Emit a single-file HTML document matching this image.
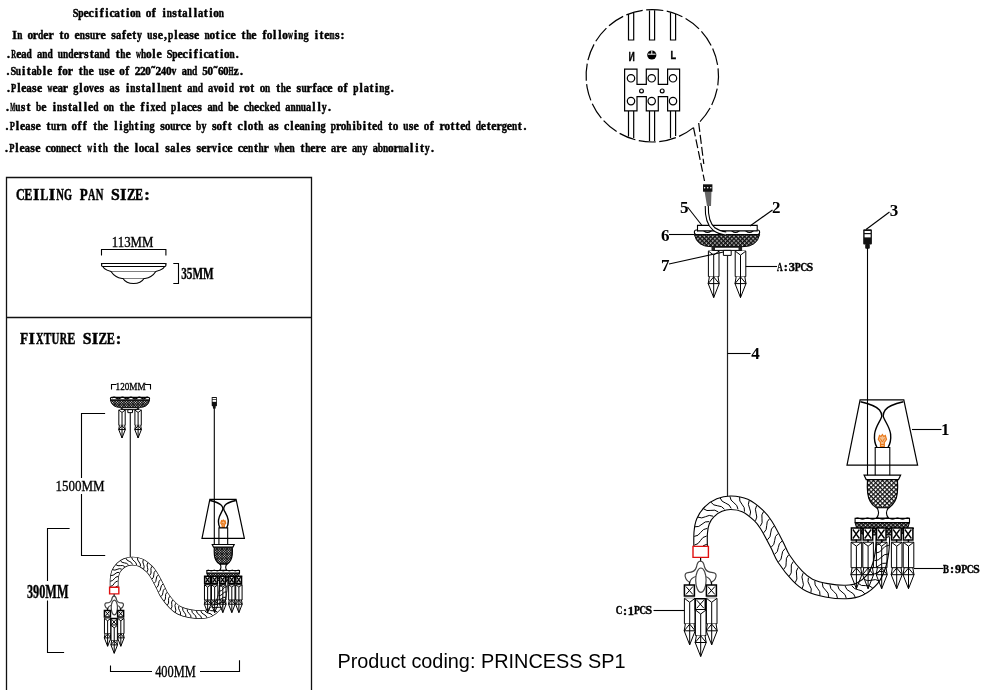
<!DOCTYPE html>
<html><head><meta charset="utf-8">
<style>
html,body{margin:0;padding:0;background:#fff;width:1000px;height:690px;overflow:hidden;}
svg{display:block;will-change:transform;}
text{font-family:"Liberation Serif",serif;fill:#000;}
.b{font-weight:bold;}
path,rect,line,circle,ellipse{vector-effect:non-scaling-stroke;}
.tube{vector-effect:none;}
.sans{font-family:"Liberation Sans",sans-serif;}
.d{stroke:#000;stroke-width:0.35;}
.bb{stroke:#000;stroke-width:0.4;}
.ser{font-family:"Liberation Serif",serif;font-weight:bold;text-anchor:middle;stroke:#000;}
.m{font-family:"Liberation Mono",monospace;font-weight:bold;stroke:#000;stroke-width:0.5;}
</style></head><body>
<svg width="1000" height="690" viewBox="0 0 1000 690">
<defs>
  <pattern id="hat2" width="3.2" height="3.2" patternUnits="userSpaceOnUse" patternTransform="rotate(45)">
    <rect width="3.2" height="3.2" fill="#fff"/>
    <rect width="3.2" height="1.2" fill="#111"/>
    <rect width="1.2" height="3.2" fill="#111"/>
  </pattern>
  <pattern id="hat" width="3" height="3" patternUnits="userSpaceOnUse" patternTransform="rotate(45)">
    <rect width="3" height="3" fill="#111"/>
    <rect x="1.6" y="1.6" width="1.4" height="1.4" fill="#fff"/>
  </pattern>
  <!-- crystal drop: origin top-left, w 10.6 -->
  <g id="cr">
    <rect x="0" y="0" width="10.6" height="25.5" fill="#fff" stroke="#000" stroke-width="1"/>
    <path d="M0,0 L5.3,4 L10.6,0 M5.3,4 V46.5 M1,25.5 L-0.2,32.5 L5.3,46.5 L10.8,32.5 L9.6,25.5 M-0.2,32.5 H10.8 M-0.2,32.5 L5.3,25.8 L10.8,32.5" fill="#fff" stroke="#000" stroke-width="1"/>
  </g>
  <g id="crn">
    <rect x="0" y="0" width="10.6" height="25.5" fill="none" stroke="#000" stroke-width="1"/>
    <path d="M0,0 L5.3,4 L10.6,0 M5.3,4 V46.5 M1,25.5 L-0.2,32.5 L5.3,46.5 L10.8,32.5 L9.6,25.5 M-0.2,32.5 H10.8 M-0.2,32.5 L5.3,25.8 L10.8,32.5" fill="none" stroke="#000" stroke-width="1"/>
  </g>
  <g id="xb2">
    <rect x="0" y="0" width="9.5" height="12" fill="#fff" stroke="#000" stroke-width="1.5"/>
    <path d="M1.5,1.5 L8,10.5 M8,1.5 L1.5,10.5" stroke="#000" stroke-width="1.3"/>
  </g>
  <g id="xb">
    <rect x="0" y="0" width="10" height="11" fill="#fff" stroke="#000" stroke-width="1.5"/>
    <path d="M1.5,1.5 L8.5,9.5 M8.5,1.5 L1.5,9.5" stroke="#000" stroke-width="1"/>
  </g>

  <!-- full fixture (big version coordinates) -->
  <g id="fix">
    <!-- plug 3 -->
    <rect x="863.2" y="229.3" width="8.7" height="15.3" rx="1" fill="#111"/>
    <rect x="864.6" y="231" width="6" height="2" fill="#fff"/>
    <rect x="864.6" y="234.2" width="6" height="3.2" fill="#fff"/>
    <rect x="865.2" y="244" width="4.6" height="4.8" rx="1" fill="#111"/>
    <line x1="867.5" y1="248" x2="867.5" y2="476" stroke="#000" stroke-width="1.1"/>

    <!-- ceiling pan -->
    <rect x="694.4" y="230" width="65.2" height="4.6" rx="2" fill="#fff" stroke="#000" stroke-width="1.1"/>
    <path d="M697,231 q3.5,-3 7,0 t7,0 t7,0 t7,0 t7,0 t7,0 t7,0 t7,0 t3.5,0" fill="none" stroke="#000" stroke-width="1.1"/>
    <path d="M694.4,234.6 L759.6,234.6 Q757,246.7 742.8,246.7 L711.4,246.7 Q697,246.7 694.4,234.6 Z" fill="url(#hat)" stroke="#000" stroke-width="1"/>
    <rect x="712.6" y="247.2" width="29" height="3.2" fill="#fff" stroke="#000" stroke-width="1"/>
    <rect x="711.5" y="246.5" width="3.5" height="4" fill="#222"/>
    <rect x="738.5" y="246.5" width="3.5" height="4" fill="#222"/>
    <use href="#cr" x="708.4" y="251.1"/>
    <use href="#cr" x="735.2" y="251.1"/>
    <rect x="723.4" y="250.4" width="7.8" height="5" fill="#fff" stroke="#000" stroke-width="1"/>
    <line x1="727.5" y1="255.4" x2="727.5" y2="497" stroke="#222" stroke-width="1.2"/>

    <!-- shade -->
    <path d="M860.1,399.8 L903.8,399.8 L917.6,465.1 L847,465.1 Z" fill="none" stroke="#000" stroke-width="1.2"/>
    <path d="M860.5,401.8 C868,403.5 876,406 879.5,410 C881.3,412.3 881.9,414.5 881.8,416 C881.5,419.5 875.5,426 874.6,434 C874,440 875.5,445 877,447.5" fill="none" stroke="#000" stroke-width="1.4"/>
    <path d="M903.4,401.8 C896,403.5 888,406 885.2,410 C883.6,412.3 883.1,414.5 883.2,416 C883.5,419.5 889.5,426 890.6,434 C891.2,440 889.5,445 888,447.5" fill="none" stroke="#000" stroke-width="1.4"/>
    <path d="M880.5,446.5 V442.5 L878.3,439.5 L879.5,435.5 L881,436.5 L882.4,434.5 L883.8,436.5 L885.3,435.5 L886.5,439.5 L884.3,442.5 V446.5 Z" fill="#f5c08f" stroke="#e8781a" stroke-width="1.2"/>
    <path d="M880.3,438.5 L882.4,442 L884.5,438.5 M880.8,444.5 H884" fill="none" stroke="#e8781a" stroke-width="1"/>
    <rect x="875.2" y="447.5" width="14.6" height="40" fill="none" stroke="#000" stroke-width="1.1"/>

    <!-- urn -->
    <path d="M867.5,479.4 C867,488 867,496 870,501 C872,505 875,507 876.5,507.8 L888.9,507.8 C890,507 893,505 895,501 C898,496 898,488 897.4,479.4 Z" style="fill:var(--urn,url(#hat2))" stroke="#000" stroke-width="1.2"/>
    <path d="M864.1,475.2 L900.6,475.2 L898.5,479.6 L866.2,479.6 Z" fill="#fff" stroke="#000" stroke-width="1.2"/>
    <path d="M877,507.8 C879,511 879,515 876.5,518.2 L888.5,518.2 C886,515 886,511 888.4,507.8 Z" fill="#fff" stroke="#000" stroke-width="1.1"/>

    <!-- bobeche -->
    <path d="M855.1,522.5 L909.5,522.5 Q907,534 898,535 L866,535 Q857,534 855.1,522.5 Z" fill="url(#hat)" stroke="#000" stroke-width="1"/>
    <rect x="855.1" y="518.4" width="54.4" height="4.2" fill="#fff" stroke="#000" stroke-width="1.1"/>
    <path d="M855,518.6 q2.5,-1.5 5,0 t5,0 t5,0 t5,0 t5,0 t5,0 t5,0 t5,0 t5,0 t5,0 t5,0" fill="none" stroke="#000" stroke-width="1"/>
    <rect x="851" y="527.9" width="63" height="1" fill="#000"/>
  </g>

  <g id="conn">
    <rect x="697.5" y="225.4" width="59.7" height="5.5" fill="#fff" stroke="#000" stroke-width="1.1"/>
    <!-- cable from connector -->
    <path d="M706.8,206 C706.5,216 708,224 714,229 C718,232 722,233 726,233.5" fill="none" stroke="#000" stroke-width="4.2" class="tube"/>
    <path d="M706.8,206 C706.5,216 708,224 714,229 C718,232 722,233 726,233.5" fill="none" stroke="#fff" stroke-width="2" class="tube"/>
    <path d="M704.5,191 L707,206 L711,206 L711.5,191 Z" fill="#666"/>
    <rect x="703" y="184.3" width="9.4" height="7.4" fill="#111"/>
    <circle cx="704.6" cy="187.8" r="0.8" fill="#fff"/><circle cx="707.7" cy="187.8" r="0.8" fill="#fff"/><circle cx="710.8" cy="187.8" r="0.8" fill="#fff"/>

  </g>

  <g id="bobcr">
    <use href="#xb2" x="851.4" y="528"/>
    <use href="#xb2" x="863.2" y="528"/>
    <use href="#xb2" x="876.5" y="528"/>
    <use href="#xb2" x="891.7" y="528"/>
    <use href="#xb2" x="903.4" y="528"/>
    <use href="#crn" x="851.1" y="542.2"/>
    <use href="#crn" x="862.8" y="542.2"/>
    <use href="#crn" x="876.4" y="542.2"/>
    <use href="#crn" x="891.4" y="542.2"/>
    <use href="#crn" x="903.2" y="542.2"/>
    <path d="M856.3,539.5 V542 M868,539.5 V542 M881.6,539.5 V542 M896.6,539.5 V542 M908.4,539.5 V542" stroke="#000" stroke-width="1.5"/>
  </g>

  <g id="arm">
    <path id="armp" d="M700.7,552.0 C700.7,548.8 700.3,538.1 700.7,533.0 C701.1,527.9 701.5,525.0 703.0,521.4 C704.5,517.8 706.8,514.3 709.6,511.6 C712.3,508.8 715.8,506.5 719.4,505.0 C723.0,503.5 726.7,502.6 731.0,502.7 C735.3,502.8 740.4,503.4 745.0,505.5 C749.6,507.6 755.2,512.3 758.8,515.6 C762.3,518.9 763.3,520.3 766.3,525.1 C769.3,529.9 773.8,538.6 776.7,544.3 C779.7,549.9 780.5,553.7 784.0,559.0 C787.5,564.3 793.1,571.5 797.4,575.9 C801.6,580.3 804.6,582.8 809.5,585.2 C814.4,587.6 820.5,589.2 826.6,590.3 C832.7,591.4 840.4,592.2 846.0,592.0 C851.6,591.8 855.6,591.2 860.0,589.0 C864.4,586.8 869.4,582.8 872.6,579.0 C875.8,575.2 877.4,570.5 879.0,566.0 C880.6,561.5 881.3,557.0 882.0,552.0 C882.7,547.0 882.8,538.7 883.0,536.0" fill="none" stroke="#000" stroke-width="14.6" class="tube"/>
    <path d="M700.7,552.0 C700.7,548.8 700.3,538.1 700.7,533.0 C701.1,527.9 701.5,525.0 703.0,521.4 C704.5,517.8 706.8,514.3 709.6,511.6 C712.3,508.8 715.8,506.5 719.4,505.0 C723.0,503.5 726.7,502.6 731.0,502.7 C735.3,502.8 740.4,503.4 745.0,505.5 C749.6,507.6 755.2,512.3 758.8,515.6 C762.3,518.9 763.3,520.3 766.3,525.1 C769.3,529.9 773.8,538.6 776.7,544.3 C779.7,549.9 780.5,553.7 784.0,559.0 C787.5,564.3 793.1,571.5 797.4,575.9 C801.6,580.3 804.6,582.8 809.5,585.2 C814.4,587.6 820.5,589.2 826.6,590.3 C832.7,591.4 840.4,592.2 846.0,592.0 C851.6,591.8 855.6,591.2 860.0,589.0 C864.4,586.8 869.4,582.8 872.6,579.0 C875.8,575.2 877.4,570.5 879.0,566.0 C880.6,561.5 881.3,557.0 882.0,552.0 C882.7,547.0 882.8,538.7 883.0,536.0" fill="none" stroke="#fff" stroke-width="12.4" class="tube"/>
    <path d="M694.5,553.6 Q698.8,552.9 700.7,549.0 Q702.5,545.0 706.8,544.3 M694.4,545.1 Q698.6,544.4 700.5,540.5 Q702.4,536.7 706.7,536.0 M694.2,536.4 Q698.5,536.1 700.7,532.4 Q703.0,528.7 707.3,528.4 M694.8,526.8 Q699.1,527.4 702.0,524.2 Q704.9,521.0 709.2,521.6 M697.8,517.1 Q701.8,518.9 705.5,516.7 Q709.2,514.4 713.1,516.2 M703.4,508.7 Q706.7,511.5 710.9,510.4 Q715.0,509.2 718.3,512.0 M710.9,502.2 Q713.4,505.8 717.7,505.8 Q722.0,505.8 724.5,509.3 M720.1,497.9 Q721.5,502.0 725.6,503.1 Q729.8,504.3 731.2,508.4 M729.9,496.3 Q730.2,500.6 733.9,502.8 Q737.6,505.0 738.0,509.3 M739.6,497.1 Q738.9,501.3 742.0,504.3 Q745.1,507.3 744.5,511.6 M749.2,500.5 Q747.4,504.4 749.5,508.1 Q751.6,511.9 749.8,515.8 M756.7,505.5 Q754.4,509.2 756.1,513.2 Q757.8,517.1 755.5,520.8 M763.7,511.4 Q760.9,514.6 762.0,518.8 Q763.1,523.0 760.2,526.3 M769.6,518.6 Q766.3,521.4 766.7,525.7 Q767.0,530.0 763.7,532.8 M774.1,526.0 Q770.6,528.6 770.7,532.9 Q770.9,537.2 767.4,539.8 M778.1,533.5 Q774.6,536.1 774.7,540.4 Q774.7,544.7 771.2,547.2 M782.1,541.0 Q778.5,543.3 778.3,547.6 Q778.2,552.0 774.6,554.3 M785.3,548.4 Q781.8,551.0 781.8,555.3 Q781.9,559.6 778.4,562.1 M788.6,554.9 Q785.5,557.9 786.2,562.2 Q786.9,566.5 783.7,569.4 M793.3,561.5 Q790.3,564.6 791.3,568.9 Q792.2,573.1 789.2,576.3 M798.1,567.6 Q795.4,570.9 796.6,575.1 Q797.9,579.2 795.2,582.6 M803.1,573.2 Q800.9,576.9 802.7,580.8 Q804.4,584.8 802.2,588.5 M808.4,577.7 Q807.0,581.8 809.6,585.3 Q812.3,588.7 810.9,592.8 M814.8,581.0 Q814.2,585.2 817.4,588.2 Q820.6,591.1 820.0,595.4 M822.3,583.1 Q822.1,587.5 825.5,590.1 Q828.9,592.7 828.7,597.0 M829.9,584.7 Q830.0,589.0 833.6,591.4 Q837.3,593.7 837.4,598.0 M837.8,585.7 Q838.2,590.0 842.0,592.0 Q845.9,594.1 846.3,598.3 M845.1,586.0 Q846.2,590.2 850.2,591.7 Q854.3,593.2 855.3,597.4 M851.8,585.7 Q854.0,589.4 858.3,589.8 Q862.6,590.1 864.8,593.8 M858.1,583.3 Q861.2,586.4 865.4,585.6 Q869.7,584.9 872.7,588.0 M864.0,579.3 Q867.6,581.7 871.6,580.2 Q875.6,578.6 879.2,581.0 M868.7,574.6 Q872.8,575.8 876.2,573.1 Q879.6,570.5 883.7,571.7 M871.9,567.7 Q876.1,568.5 879.2,565.5 Q882.2,562.4 886.5,563.2 M874.3,560.7 Q878.6,560.8 881.2,557.4 Q883.8,553.9 888.1,554.0 M875.7,553.1 Q880.0,552.9 882.3,549.2 Q884.6,545.5 888.9,545.3 M876.4,545.1 Q880.7,544.6 882.8,540.8 Q884.9,537.0 889.2,536.6" fill="none" stroke="#000" stroke-width="1"/>
  </g>

  <g id="cpart">
    <rect x="693" y="546.4" width="15.4" height="11" fill="#fff" stroke="#e01010" stroke-width="1.4"/>
    <line x1="700.6" y1="558" x2="700.6" y2="567" stroke="#000" stroke-width="1.2"/>
    <path d="M700.4,561.2 C697.5,561.2 697,564 696.5,567 C695.5,570.5 692,572.5 688,572.6 C685.5,572.7 684.8,574.5 685.2,576.5 C685.8,579.5 688,581.5 690,582 C690.5,579.5 692.5,577.5 695.8,576.5 L705.4,576.5 C708.5,577.5 710.5,579.5 711,582 C713,581.5 715.5,579.5 716,576.5 C716.4,574.5 715.5,572.7 713,572.6 C709,572.5 705.5,570.5 704.5,567 C704,564 703.5,561.2 700.4,561.2 Z" fill="#fff" stroke="#444" stroke-width="1.2"/>
    <path d="M689.5,582 V585.5 M711.5,582 V585.5" stroke="#000" stroke-width="1.3"/>
    <ellipse cx="700.9" cy="580.2" rx="5.2" ry="12.2" fill="#fff" stroke="#444" stroke-width="1.2"/>
    <use href="#xb" x="684.4" y="585"/>
    <use href="#xb" x="706.4" y="585"/>
    <use href="#cr" x="684.4" y="598.3"/>
    <use href="#cr" x="706.4" y="598.3"/>
    <use href="#xb" x="695.3" y="598.7" />
    <use href="#cr" x="695.4" y="610"/>
  </g>
</defs>

<!-- ===== instruction text ===== -->
<text class="ser" style="font-size:11.8px;stroke-width:0.45" x="85.91" y="17.3" transform="scale(0.88,1)">S</text>
<text class="ser" style="font-size:11.8px;stroke-width:0.45" x="99.77" y="17.3" transform="scale(0.81,1)">p</text>
<text class="ser" style="font-size:11.8px;stroke-width:0.45" x="86.02 91.22 96.43 101.64 106.84 112.05 122.47 127.67 153.71 164.12 174.53 179.74 190.16 195.36 205.78 210.98" y="17.3">ecifictifistllti</text>
<text class="ser" style="font-size:11.8px;stroke-width:0.45" x="130.29 205.50 222.85" y="17.3" transform="scale(0.9,1)">aaa</text>
<text class="ser" style="font-size:11.8px;stroke-width:0.45" x="138.42 154.69 225.20" y="17.3" transform="scale(0.96,1)">ooo</text>
<text class="ser" style="font-size:11.8px;stroke-width:0.45" x="174.79 214.34 280.25" y="17.3" transform="scale(0.79,1)">nnn</text>
<text class="ser" style="font-size:11.8px;stroke-width:0.45" x="14.60 35.41 45.82 51.02 61.43 77.04 87.45 97.85 103.05 113.46 123.87 129.07 134.27 155.09 160.29 165.49 175.90 181.10 191.51 196.71 217.52 222.73 227.93 233.13 243.54 253.95 264.35 274.76 279.96 295.57 316.38 321.59 326.79 337.20 342.40" y="39.3">Irertesresfetse,leseticeteflliites:</text>
<text class="ser" style="font-size:11.8px;stroke-width:0.45" x="25.07 104.10 117.28 189.73 262.17 314.86 380.73" y="39.3" transform="scale(0.79,1)">nnuunhn</text>
<text class="ser" style="font-size:11.8px;stroke-width:0.45" x="31.47 69.41 221.17 280.79 297.05" y="39.3" transform="scale(0.96,1)">ooooo</text>
<text class="ser" style="font-size:11.8px;stroke-width:0.45" x="50.77" y="39.3" transform="scale(0.8,1)">d</text>
<text class="ser" style="font-size:11.8px;stroke-width:0.45" x="131.85 207.01" y="39.3" transform="scale(0.9,1)">aa</text>
<text class="ser" style="font-size:11.8px;stroke-width:0.45" x="166.04" y="39.3" transform="scale(0.84,1)">y</text>
<text class="ser" style="font-size:11.8px;stroke-width:0.45" x="210.73" y="39.3" transform="scale(0.81,1)">p</text>
<text class="ser" style="font-size:11.8px;stroke-width:0.45" x="509.42" y="39.3" transform="scale(0.57,1)">w</text>
<text class="ser" style="font-size:11.8px;stroke-width:0.45" x="351.70" y="39.3" transform="scale(0.87,1)">g</text>
<text class="ser" style="font-size:11.8px;stroke-width:0.45" x="650.97" y="39.3" transform="scale(0.51,1)">m</text>
<text class="ser" style="font-size:11.8px;stroke-width:0.45" x="8.40 18.80 76.00 81.20 86.40 91.60 117.60 128.00 154.00 159.20 180.00 185.20 190.40 195.60 200.80 206.00 216.40 221.60 237.20" y="57.7">.eerstteleecificti.</text>
<text class="ser" style="font-size:11.8px;stroke-width:0.45" x="23.86 242.81" y="57.7" transform="scale(0.57,1)">Rw</text>
<text class="ser" style="font-size:11.8px;stroke-width:0.45" x="26.67 44.00 107.56 234.67" y="57.7" transform="scale(0.9,1)">aaaa</text>
<text class="ser" style="font-size:11.8px;stroke-width:0.45" x="36.50 62.50 88.50 134.00" y="57.7" transform="scale(0.8,1)">dddd</text>
<text class="ser" style="font-size:11.8px;stroke-width:0.45" x="56.71 76.46 83.04 129.11 155.44 181.77 293.67" y="57.7" transform="scale(0.79,1)">nunnhhn</text>
<text class="ser" style="font-size:11.8px;stroke-width:0.45" x="155.00 236.25" y="57.7" transform="scale(0.96,1)">oo</text>
<text class="ser" style="font-size:11.8px;stroke-width:0.45" x="192.73" y="57.7" transform="scale(0.88,1)">S</text>
<text class="ser" style="font-size:11.8px;stroke-width:0.45" x="215.80" y="57.7" transform="scale(0.81,1)">p</text>
<text class="ser" style="font-size:11.8px;stroke-width:0.45" x="8.09 23.65 28.83 44.39 49.57 59.94 70.31 80.68 91.05 106.60 111.79 127.34 153.27 215.48 236.22 241.41" y="75.3">.itlefrtesef˜˜z.</text>
<text class="ser" style="font-size:11.8px;stroke-width:0.45" x="15.09" y="75.3" transform="scale(0.88,1)">S</text>
<text class="ser" style="font-size:11.8px;stroke-width:0.45" x="23.37 128.38 239.95" y="75.3" transform="scale(0.79,1)">uun</text>
<text class="ser" style="font-size:11.8px;stroke-width:0.45" x="38.22 207.16" y="75.3" transform="scale(0.89,1)">aa</text>
<text class="ser" style="font-size:11.8px;stroke-width:0.45" x="49.00 243.43" y="75.3" transform="scale(0.8,1)">bd</text>
<text class="ser" style="font-size:11.8px;stroke-width:0.45" x="68.55 128.59 155.88 177.71 215.91 221.37 237.74" y="75.3" transform="scale(0.95,1)">oo00500</text>
<text class="ser" style="font-size:11.8px;stroke-width:0.45" x="110.08" y="75.3" transform="scale(0.78,1)">h</text>
<text class="ser" style="font-size:11.8px;stroke-width:0.45" x="141.97 147.32 163.35" y="75.3" transform="scale(0.97,1)">222</text>
<text class="ser" style="font-size:11.8px;stroke-width:0.45" x="190.27" y="75.3" transform="scale(0.86,1)">4</text>
<text class="ser" style="font-size:11.8px;stroke-width:0.45" x="214.82" y="75.3" transform="scale(0.81,1)">v</text>
<text class="ser" style="font-size:11.8px;stroke-width:0.45" x="237.28" y="75.3" transform="scale(0.93,1)">6</text>
<text class="ser" style="font-size:11.8px;stroke-width:0.45" x="427.85" y="75.3" transform="scale(0.54,1)">H</text>
<text class="ser" style="font-size:11.8px;stroke-width:0.45" x="8.39 18.77 23.95 34.33 39.51 55.07 65.45 81.01 96.57 101.75 117.31 127.69 138.06 143.25 153.62 158.81 169.18 179.55 226.23 241.79 252.17 278.10 288.47 298.85 309.22 314.41 324.78 329.97 345.53 361.09 371.46 376.65 392.21" y="92.3">.leseerlessistlletirttesrfceflti.</text>
<text class="ser" style="font-size:11.8px;stroke-width:0.45" x="18.86" y="92.3" transform="scale(0.72,1)">P</text>
<text class="ser" style="font-size:11.8px;stroke-width:0.45" x="32.74 67.71 125.99 166.78 213.40 236.71 359.09 411.54" y="92.3" transform="scale(0.89,1)">aaaaaaaa</text>
<text class="ser" style="font-size:11.8px;stroke-width:0.45" x="87.52" y="92.3" transform="scale(0.57,1)">w</text>
<text class="ser" style="font-size:11.8px;stroke-width:0.45" x="87.15 444.85" y="92.3" transform="scale(0.87,1)">gg</text>
<text class="ser" style="font-size:11.8px;stroke-width:0.45" x="90.73 232.68 259.98 276.36 358.25" y="92.3" transform="scale(0.95,1)">ooooo</text>
<text class="ser" style="font-size:11.8px;stroke-width:0.45" x="112.81 266.49" y="92.3" transform="scale(0.81,1)">vv</text>
<text class="ser" style="font-size:11.8px;stroke-width:0.45" x="168.19 220.72 246.98 338.89 384.85 483.33" y="92.3" transform="scale(0.79,1)">nnnnun</text>
<text class="ser" style="font-size:11.8px;stroke-width:0.45" x="321.56" y="92.3" transform="scale(0.51,1)">m</text>
<text class="ser" style="font-size:11.8px;stroke-width:0.45" x="250.38 289.27 444.87" y="92.3" transform="scale(0.8,1)">ddp</text>
<text class="ser" style="font-size:11.8px;stroke-width:0.45" x="363.19" y="92.3" transform="scale(0.78,1)">h</text>
<text class="ser" style="font-size:11.8px;stroke-width:0.45" x="7.60 23.17 28.36 43.93 54.31 64.69 69.88 80.26 85.45 90.64 121.79 132.17 142.55 147.74 158.12 178.88 189.26 194.45 199.64 235.98 246.36 256.74 261.93 272.31 313.83 319.02 329.40" y="111.3">.steistlletefielcesececell.</text>
<text class="ser" style="font-size:11.8px;stroke-width:0.45" x="28.41" y="111.3" transform="scale(0.45,1)">M</text>
<text class="ser" style="font-size:11.8px;stroke-width:0.45" x="22.75 75.32 141.02 272.42 370.98 377.55 384.12" y="111.3" transform="scale(0.79,1)">unnnnnu</text>
<text class="ser" style="font-size:11.8px;stroke-width:0.45" x="48.42 119.79 204.14 217.11 275.51 288.48 346.88" y="111.3" transform="scale(0.8,1)">bddpdbd</text>
<text class="ser" style="font-size:11.8px;stroke-width:0.45" x="84.35 206.82 235.98 323.46 346.79" y="111.3" transform="scale(0.89,1)">aaaaa</text>
<text class="ser" style="font-size:11.8px;stroke-width:0.45" x="111.80" y="111.3" transform="scale(0.95,1)">o</text>
<text class="ser" style="font-size:11.8px;stroke-width:0.45" x="162.79 322.50" y="111.3" transform="scale(0.78,1)">hh</text>
<text class="ser" style="font-size:11.8px;stroke-width:0.45" x="186.50" y="111.3" transform="scale(0.82,1)">x</text>
<text class="ser" style="font-size:11.8px;stroke-width:0.45" x="351.47" y="111.3" transform="scale(0.76,1)">k</text>
<text class="ser" style="font-size:11.8px;stroke-width:0.45" x="385.97" y="111.3" transform="scale(0.84,1)">y</text>
<text class="ser" style="font-size:11.8px;stroke-width:0.45" x="7.09 17.45 22.62 32.98 38.16 48.51 58.87 79.58 84.76 95.12 105.48 115.83 121.01 136.54 141.72 162.44 177.97 183.15 188.33 214.22 224.57 229.75 240.11 245.29 255.64 276.36 286.71 291.89 297.07 312.60 338.50 354.03 364.39 369.56 374.74 390.28 410.99 416.17 431.70 442.06 452.42 457.59 462.77 483.49 488.66 493.84 499.02 509.38 519.73 524.91" y="130.3">.lesetrfftelitisrcesftcltscleiriitetsefrtteeteret.</text>
<text class="ser" style="font-size:11.8px;stroke-width:0.45" x="17.28" y="130.3" transform="scale(0.71,1)">P</text>
<text class="ser" style="font-size:11.8px;stroke-width:0.45" x="31.24 304.69 339.60" y="130.3" transform="scale(0.89,1)">aaa</text>
<text class="ser" style="font-size:11.8px;stroke-width:0.45" x="67.97 81.08 185.95 218.72 389.15 402.26 513.69 651.33" y="130.3" transform="scale(0.79,1)">unnunnun</text>
<text class="ser" style="font-size:11.8px;stroke-width:0.45" x="78.32 176.44 230.94 263.65 361.76 416.27 448.97 470.78" y="130.3" transform="scale(0.95,1)">oooooooo</text>
<text class="ser" style="font-size:11.8px;stroke-width:0.45" x="128.59 168.42 334.39 447.25" y="130.3" transform="scale(0.78,1)">hhhh</text>
<text class="ser" style="font-size:11.8px;stroke-width:0.45" x="145.04 174.80 371.22 579.54" y="130.3" transform="scale(0.87,1)">gggg</text>
<text class="ser" style="font-size:11.8px;stroke-width:0.45" x="248.35 416.65 449.01 474.90 584.94 597.88" y="130.3" transform="scale(0.8,1)">bpbddd</text>
<text class="ser" style="font-size:11.8px;stroke-width:0.45" x="242.69" y="130.3" transform="scale(0.84,1)">y</text>
<text class="ser" style="font-size:11.8px;stroke-width:0.45" x="6.60 16.98 22.17 32.56 37.75 48.14 68.91 74.10 79.30 94.87 100.07 115.64 126.03 136.42 146.80 157.19 167.57 177.96 183.15 188.34 198.73 203.92 209.11 219.50 224.69 229.89 240.27 245.46 255.85 266.23 287.01 302.58 312.97 318.16 323.36 338.93 344.13 396.05 411.63 416.83 422.02 432.40" y="152.3">.lesecectittelclslessericecetreterererlit.</text>
<text class="ser" style="font-size:11.8px;stroke-width:0.45" x="16.37" y="152.3" transform="scale(0.72,1)">P</text>
<text class="ser" style="font-size:11.8px;stroke-width:0.45" x="30.75 170.78 194.12 374.99 398.33 421.67 456.67" y="152.3" transform="scale(0.89,1)">aaaaaaa</text>
<text class="ser" style="font-size:11.8px;stroke-width:0.45" x="55.55 147.51 407.15" y="152.3" transform="scale(0.96,1)">ooo</text>
<text class="ser" style="font-size:11.8px;stroke-width:0.45" x="74.08 80.65 317.29 369.87 455.32 488.19" y="152.3" transform="scale(0.79,1)">nnnnnn</text>
<text class="ser" style="font-size:11.8px;stroke-width:0.45" x="157.33 485.30" y="152.3" transform="scale(0.57,1)">ww</text>
<text class="ser" style="font-size:11.8px;stroke-width:0.45" x="134.95 154.92 334.67 361.30 394.59" y="152.3" transform="scale(0.78,1)">hhhhh</text>
<text class="ser" style="font-size:11.8px;stroke-width:0.45" x="264.58 469.72" y="152.3" transform="scale(0.81,1)">vb</text>
<text class="ser" style="font-size:11.8px;stroke-width:0.45" x="434.40 508.58" y="152.3" transform="scale(0.84,1)">yy</text>
<text class="ser" style="font-size:11.8px;stroke-width:0.45" x="786.76" y="152.3" transform="scale(0.51,1)">m</text>

<!-- ===== left boxes ===== -->
<path d="M6.5,690 V177.5 H311.5 V690 M6.5,317.5 H311.5" fill="none" stroke="#111" stroke-width="1.3"/>
<text class="ser" style="font-size:16.6px;stroke-width:0.5" x="28.02 38.86 190.59" y="199.6" transform="scale(0.73,1)">CEE</text>
<text class="ser" style="font-size:16.6px;stroke-width:0.5" x="36.28 52.10 123.31 147.04" y="199.6">III:</text>
<text class="ser" style="font-size:16.6px;stroke-width:0.5" x="61.38" y="199.6" transform="scale(0.72,1)">L</text>
<text class="ser" style="font-size:16.6px;stroke-width:0.5" x="93.77 155.58" y="199.6" transform="scale(0.64,1)">NN</text>
<text class="ser" style="font-size:16.6px;stroke-width:0.5" x="109.56 147.84" y="199.6" transform="scale(0.62,1)">GA</text>
<text class="ser" style="font-size:16.6px;stroke-width:0.5" x="107.37" y="199.6" transform="scale(0.78,1)">P</text>
<text class="ser" style="font-size:16.6px;stroke-width:0.5" x="121.47" y="199.6" transform="scale(0.95,1)">S</text>
<text class="ser" style="font-size:16.6px;stroke-width:0.5" x="170.42" y="199.6" transform="scale(0.77,1)">Z</text>
<text class="ser" style="font-size:16.6px;stroke-width:0.5" x="29.93" y="343.6" transform="scale(0.8,1)">F</text>
<text class="ser" style="font-size:16.6px;stroke-width:0.5" x="31.83 94.90 118.56" y="343.6">II:</text>
<text class="ser" style="font-size:16.6px;stroke-width:0.5" x="63.03" y="343.6" transform="scale(0.63,1)">X</text>
<text class="ser" style="font-size:16.6px;stroke-width:0.5" x="68.98" y="343.6" transform="scale(0.69,1)">T</text>
<text class="ser" style="font-size:16.6px;stroke-width:0.5" x="85.36" y="343.6" transform="scale(0.65,1)">U</text>
<text class="ser" style="font-size:16.6px;stroke-width:0.5" x="103.88" y="343.6" transform="scale(0.61,1)">R</text>
<text class="ser" style="font-size:16.6px;stroke-width:0.5" x="97.60 151.61" y="343.6" transform="scale(0.73,1)">EE</text>
<text class="ser" style="font-size:16.6px;stroke-width:0.5" x="91.60" y="343.6" transform="scale(0.95,1)">S</text>
<text class="ser" style="font-size:16.6px;stroke-width:0.5" x="133.49" y="343.6" transform="scale(0.77,1)">Z</text>

<!-- ceiling pan size drawing -->
<text class="d" x="111.8" y="246.9" font-size="14.5" textLength="41.5" lengthAdjust="spacingAndGlyphs">113MM</text>
<path d="M101.5,255.5 V249.5 H165.9 V255.5" fill="none" stroke="#000" stroke-width="1.1"/>
<path d="M101.5,263.5 Q102,269 111,271.5 L155.8,271.5 Q165.5,269 166,263.5 Z" fill="#fff" stroke="#000" stroke-width="1.1"/>
<rect x="101.5" y="263.5" width="64.5" height="3" rx="1.4" fill="#fff" stroke="#000" stroke-width="1.1"/>
<path d="M111,271.5 Q115,277.5 122,278.5 L145,278.5 Q152,277.5 155.8,271.5" fill="#fff" stroke="#000" stroke-width="1.1"/>
<path d="M123,278.5 Q126,283.5 133.5,283.5 Q141,283.5 144,278.5" fill="#fff" stroke="#000" stroke-width="1.1"/>
<path d="M173.3,263.5 H178.5 V283.5 H173.3" fill="none" stroke="#000" stroke-width="1.1"/>
<text class="b bb" x="181.2" y="278.6" font-size="16.5" textLength="32.5" lengthAdjust="spacingAndGlyphs">35MM</text>

<!-- fixture size drawing: scaled copy -->
<g transform="translate(-306.2,259.4) scale(0.6)" style="--urn:url(#hat)">
  <use href="#fix"/>
  <use href="#arm"/>
  <use href="#bobcr"/>
  <use href="#cpart"/>
</g>
<path d="M111.5,389.6 V384.5 H116 M144.8,384.5 H150.5 V389.6" fill="none" stroke="#000" stroke-width="1.1"/>
<text class="d" x="115.6" y="389.5" font-size="11" textLength="30" lengthAdjust="spacingAndGlyphs">120MM</text>
<path d="M105.1,413.5 H81.5 V478 M81.5,494 V555.5 H105.2" fill="none" stroke="#000" stroke-width="1.1"/>
<text class="d" x="55.6" y="490.8" font-size="15.5" textLength="49" lengthAdjust="spacingAndGlyphs">1500MM</text>
<path d="M69.6,528.5 H47.5 V580.9 M47.5,600.4 V652.5 H64.1" fill="none" stroke="#000" stroke-width="1.1"/>
<text class="b bb" x="27" y="597.6" font-size="18" textLength="41.5" lengthAdjust="spacingAndGlyphs">390MM</text>
<path d="M110.5,665.6 V671.5 H152 M200,671.5 H239.5 V660.2" fill="none" stroke="#000" stroke-width="1.1"/>
<text class="d" x="155.2" y="676.9" font-size="16.5" textLength="40.5" lengthAdjust="spacingAndGlyphs">400MM</text>

<!-- ===== product coding ===== -->
<text class="sans" x="337.4" y="668" font-size="20.3" fill="#111" textLength="288.2" lengthAdjust="spacingAndGlyphs">Product coding: PRINCESS SP1</text>

<!-- ===== big fixture ===== -->
<use href="#fix"/>
<use href="#conn"/>
<use href="#arm"/>
<use href="#bobcr"/>
<use href="#cpart"/>

<!-- callout circle -->
<g fill="none" stroke="#000" stroke-width="1.2">
  <path d="M693.5,127.6 A66.2,66.2 0 1 1 698.7,123" stroke-dasharray="17 3.5"/>
  <path d="M693.5,127.6 L704.5,181 M698.7,123 L703.8,164" stroke-dasharray="9 3"/>
  <!-- wires top -->
  <path d="M628.5,14 V40 H633.7 V13 M649.5,10.5 V40 H654.6 V10.2 M670.5,12.5 V40 H675.6 V14"/>
  <!-- wires bottom -->
  <path d="M628.5,111 V136.5 M633.7,111 V138 M649.5,111 V141 M654.6,111 V141 M670.5,111 V138 M675.6,111 V136"/>
  <!-- terminal block -->
  <path d="M624.6,69.1 H637 V84.3 H646.3 V69.1 H658.3 V84.3 H667.6 V69.1 H679.6 V110.9 H667.6 V96.7 H658.3 V110.9 H646.3 V96.7 H637 V110.9 H624.6 Z" fill="#fff"/>
  <circle cx="631" cy="78.3" r="3.7"/><circle cx="651.7" cy="78.3" r="3.7"/><circle cx="673" cy="78.3" r="3.7"/>
  <circle cx="631" cy="101.1" r="3.7"/><circle cx="651.7" cy="101.1" r="3.7"/><circle cx="673" cy="101.1" r="3.7"/>
  <circle cx="641.5" cy="90.9" r="1.9"/><circle cx="662.2" cy="90.9" r="1.9"/>
</g>
<text class="b sans bb" x="628.6" y="60.8" font-size="12" transform="translate(1263.3,0) scale(-1,1)" textLength="6.2" lengthAdjust="spacingAndGlyphs">N</text>
<circle cx="651.8" cy="55" r="4.6" fill="#000"/>
<path d="M648,54.2 H655.6 M651.8,50.5 V54.2" stroke="#fff" stroke-width="1"/>
<text class="b sans bb" x="670.6" y="59" font-size="11" textLength="5.6" lengthAdjust="spacingAndGlyphs">L</text>

<!-- labels -->
<g stroke="#000" stroke-width="1.1" fill="none">
  <path d="M687.5,207 L702,225.5"/>
  <path d="M772.5,210 L750,226"/>
  <path d="M669,234.5 H694.4"/>
  <path d="M669,264 L723.4,252"/>
  <path d="M745.8,266.5 H777"/>
  <path d="M889.5,212 L866,229.5"/>
  <path d="M727.5,353.5 H750.6"/>
  <path d="M912,429.5 H941.5"/>
  <path d="M913.8,568.5 H943.5"/>
  <path d="M653.5,610.5 H684.4"/>
</g>
<text class="b" x="680" y="213" font-size="17">5</text>
<text class="b" x="772" y="212.7" font-size="17">2</text>
<text class="b" x="661" y="240.9" font-size="17">6</text>
<text class="b" x="661" y="271.2" font-size="17">7</text>
<text class="ser" style="font-size:12.4px;stroke-width:0.4" x="1237.78" y="271.0" transform="scale(0.63,1)">A</text>
<text class="ser" style="font-size:12.4px;stroke-width:0.4" x="785.80 791.80" y="271.0">:3</text>
<text class="ser" style="font-size:12.4px;stroke-width:0.4" x="1009.87" y="271.0" transform="scale(0.79,1)">P</text>
<text class="ser" style="font-size:12.4px;stroke-width:0.4" x="1071.73" y="271.0" transform="scale(0.75,1)">C</text>
<text class="ser" style="font-size:12.4px;stroke-width:0.4" x="834.85" y="271.0" transform="scale(0.97,1)">S</text>
<text class="b" x="889.8" y="216" font-size="17">3</text>
<text class="b" x="751.2" y="359.3" font-size="17">4</text>
<text class="b" x="941" y="435" font-size="17">1</text>
<text class="ser" style="font-size:12.4px;stroke-width:0.4" x="1313.81" y="572.9" transform="scale(0.72,1)">B</text>
<text class="ser" style="font-size:12.4px;stroke-width:0.4" x="952.02 958.11" y="572.9">:9</text>
<text class="ser" style="font-size:12.4px;stroke-width:0.4" x="1205.24" y="572.9" transform="scale(0.8,1)">P</text>
<text class="ser" style="font-size:12.4px;stroke-width:0.4" x="1276.68" y="572.9" transform="scale(0.76,1)">C</text>
<text class="ser" style="font-size:12.4px;stroke-width:0.4" x="996.28" y="572.9" transform="scale(0.98,1)">S</text>
<text class="ser" style="font-size:12.4px;stroke-width:0.4" x="836.46 868.72" y="614.5" transform="scale(0.74,1)">CC</text>
<text class="ser" style="font-size:12.4px;stroke-width:0.4" x="624.95 630.92" y="614.5">:1</text>
<text class="ser" style="font-size:12.4px;stroke-width:0.4" x="816.52" y="614.5" transform="scale(0.78,1)">P</text>
<text class="ser" style="font-size:12.4px;stroke-width:0.4" x="675.85" y="614.5" transform="scale(0.96,1)">S</text>
</svg>
</body></html>
